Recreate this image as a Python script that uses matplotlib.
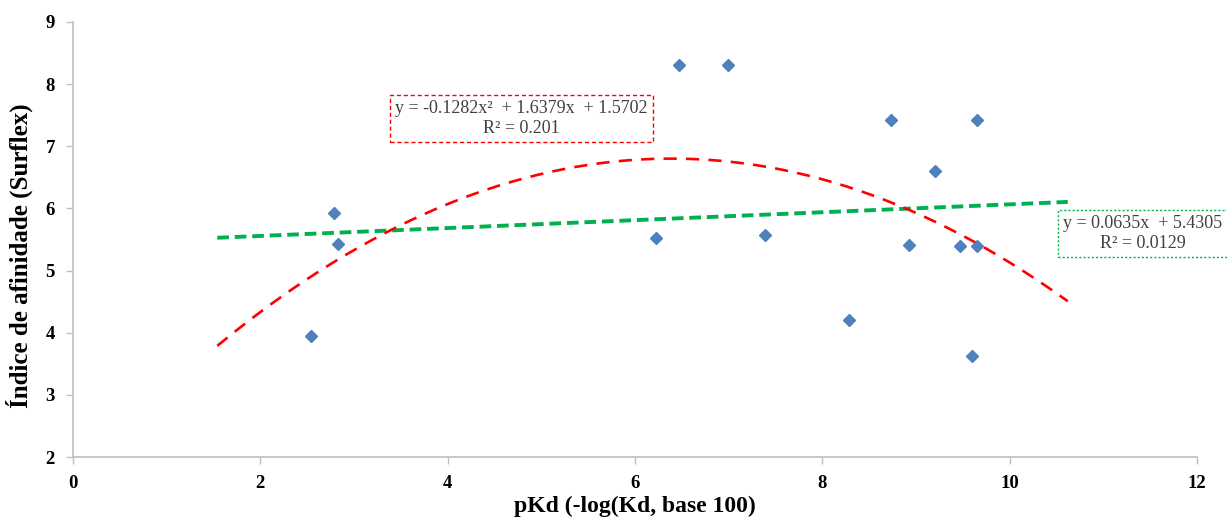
import numpy as np
import matplotlib
matplotlib.use("Agg")
import matplotlib.pyplot as plt

# data
pkd = [2.54, 2.79, 2.83, 6.47, 6.99, 6.22, 7.39, 8.73, 9.65, 9.20, 8.93, 9.47, 9.65, 8.28, 9.60]
surflex = [3.95, 5.93, 5.42, 8.30, 8.30, 5.52, 5.57, 7.42, 7.42, 6.60, 5.41, 5.39, 5.39, 4.21, 3.63]

# trendline coefficients as printed on the chart
quad_coef = [-0.1282, 1.6379, 1.5702]
lin_coef = [0.0635, 5.4305]
trend_range = (1.54, 10.62)

quad_label = "y = -0.1282x²  + 1.6379x  + 1.5702\nR² = 0.201"
lin_label = "y = 0.0635x  + 5.4305\nR² = 0.0129"

plt.rcParams['font.family'] = ['Liberation Serif', 'DejaVu Serif']

fig = plt.figure(figsize=(12.27, 5.21), dpi=100)
ax = fig.add_axes([0.0595, 0.1228, 0.9161, 0.835])

xs = np.linspace(trend_range[0], trend_range[1], 200)
ax.plot(xs, np.polyval(lin_coef, xs), color='#00B050', lw=2.8, ls=(0, (3, 1.5)), zorder=2)
ax.plot(xs, np.polyval(quad_coef, xs), color='#FF0000', lw=1.9, ls=(0, (5, 3.5)), zorder=2)
ax.plot(pkd, surflex, ls='none', marker='D', ms=6.5, color='#4F81BD', zorder=3)

ax.set_xlim(0, 12)
ax.set_ylim(2, 9)
ax.set_xticks(range(0, 13, 2))
ax.set_yticks(range(2, 10))

for s in ['top', 'right']:
    ax.spines[s].set_visible(False)
for s in ['left', 'bottom']:
    ax.spines[s].set_color('#BFBFBF')
    ax.spines[s].set_linewidth(1.2)
ax.tick_params(direction='out', length=5, color='#BFBFBF', width=1, labelsize=13.5, pad=8)
for lbl in ax.get_xticklabels() + ax.get_yticklabels():
    lbl.set_fontweight('bold')

ax.set_xlabel("pKd (-log(Kd, base 100)", fontsize=17, fontweight='bold', labelpad=3)
ax.set_ylabel("Índice de afinidade (Surflex)", fontsize=18, fontweight='bold')
ax.yaxis.set_label_coords(-0.036, 0.462)

ax.text(4.79, 7.45, quad_label, ha='center', va='center', multialignment='center',
        fontsize=13, color='#404040', linespacing=1.2,
        bbox=dict(boxstyle='square,pad=0.3', fc='white', ec='#FF0000', ls=(0, (3, 2)), lw=1))
ax.text(11.42, 5.6, lin_label, ha='center', va='center', multialignment='center',
        fontsize=13, color='#404040', linespacing=1.2, clip_on=False,
        bbox=dict(boxstyle='square,pad=0.3', fc='white', ec='#00B050', ls=(0, (1.5, 1.5)), lw=1))

fig.savefig("out.png", dpi=100)
